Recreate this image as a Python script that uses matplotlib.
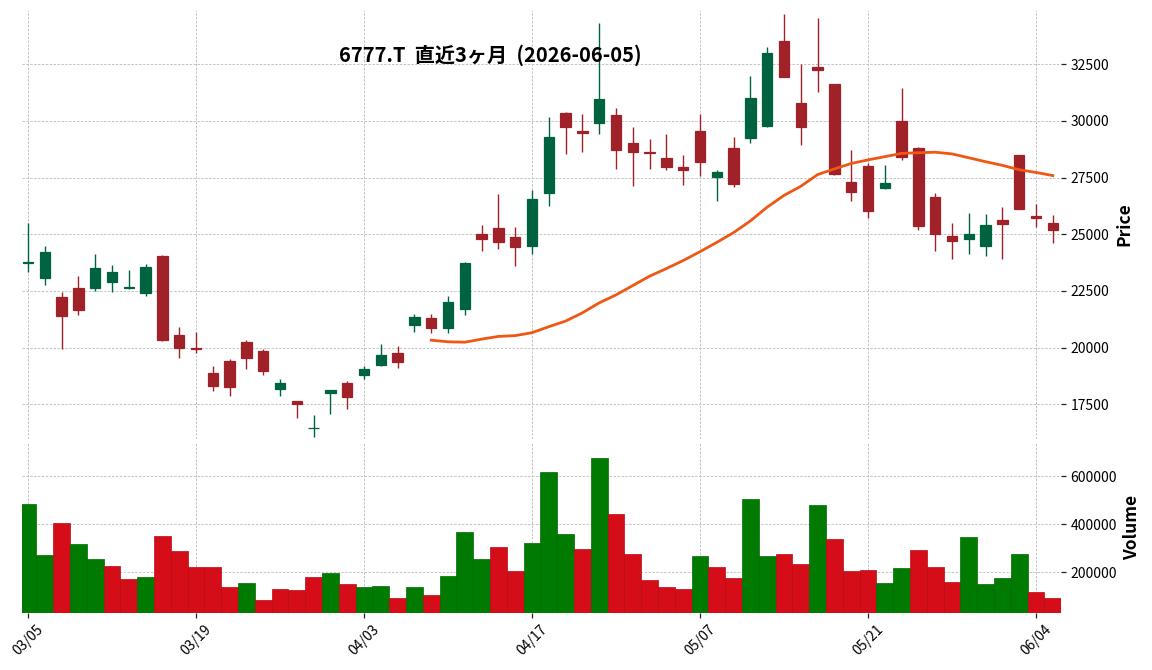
import matplotlib
matplotlib.use("Agg")
import matplotlib.pyplot as plt
import numpy as np
import pandas as pd

# フォント設定 (日本語タイトル用)
plt.rcParams['font.family'] = ['Noto Sans CJK JP', 'DejaVu Sans']

# 日付 (営業日)
dates = ["03/05", "03/06", "03/09", "03/10", "03/11", "03/12", "03/13", "03/16", "03/17", "03/18",
         "03/19", "03/23", "03/24", "03/25", "03/26", "03/27", "03/30", "03/31", "04/01", "04/02",
         "04/03", "04/06", "04/07", "04/08", "04/09", "04/10", "04/13", "04/14", "04/15", "04/16",
         "04/17", "04/20", "04/21", "04/22", "04/23", "04/24", "04/27", "04/28", "04/30", "05/01",
         "05/07", "05/08", "05/11", "05/12", "05/13", "05/14", "05/15", "05/18", "05/19", "05/20",
         "05/21", "05/22", "05/25", "05/26", "05/27", "05/28", "05/29", "06/01", "06/02", "06/03",
         "06/04", "06/05"]

opens = [23740, 23060, 22250, 22610, 22620, 22890, 22630, 22390, 24060, 20540,
         19990, 18860, 19390, 20230, 19830, 18170, 17630, 16440, 18010, 18420,
         18790, 19230, 19740, 20990, 21310, 20860, 21700, 25030, 25290, 24900,
         24470, 26820, 30330, 29560, 29930, 30270, 29020, 28640, 28380, 27980,
         29560, 27510, 28820, 29230, 29780, 33530, 30800, 32380, 31630, 27320,
         28020, 27020, 30000, 28820, 26660, 24940, 24780, 24470, 25610, 28480,
         25820, 25510]
highs = [25500, 24470, 22470, 23160, 24130, 23650, 23430, 23690, 24080, 20900,
         20700, 19200, 19480, 20320, 19950, 18600, 17640, 17010, 18120, 18510,
         19190, 20170, 20070, 21500, 21500, 22280, 23790, 25410, 26780, 25310,
         26950, 30170, 30390, 30300, 34310, 30560, 29730, 29200, 29420, 28490,
         30300, 27820, 29290, 31970, 33280, 34700, 32500, 34530, 31650, 28700,
         28140, 28050, 31440, 28830, 26820, 25500, 25950, 25890, 26200, 28500,
         26330, 25850]
lows = [23320, 22770, 19960, 21450, 22500, 22460, 22590, 22280, 20310, 19550,
        19740, 18100, 17880, 19070, 18800, 17880, 16910, 16070, 17060, 17280,
        18630, 19190, 19110, 20700, 20650, 20650, 21450, 24270, 24350, 23600,
        24120, 26250, 28540, 28620, 29420, 27880, 27140, 27880, 27830, 27170,
        27580, 26470, 27080, 29020, 29720, 31940, 28930, 31270, 27620, 26470,
        25720, 27000, 28270, 25200, 24260, 23910, 24130, 24040, 23910, 26110,
        25310, 24600]
closes = [23770, 24220, 21390, 21650, 23530, 23350, 22690, 23570, 20330, 19980,
          19950, 18300, 18260, 19540, 18970, 18420, 17510, 16470, 18110, 17820,
          19040, 19680, 19360, 21370, 20870, 22030, 23750, 24780, 24650, 24430,
          26570, 29300, 29750, 29450, 30970, 28700, 28650, 28580, 27950, 27820,
          28210, 27760, 27240, 31020, 33000, 31960, 29750, 32270, 27640, 26850,
          26010, 27270, 28430, 25350, 25030, 24690, 25030, 25420, 25440, 26130,
          25730, 25180]
volumes = [485000, 272000, 405000, 318000, 256000, 226000, 172000, 181000, 351000, 289000,
           222000, 222000, 139000, 156000, 85000, 131000, 126000, 181000, 197000, 151000,
           139000, 143000, 93000, 139000, 106000, 185000, 368000, 256000, 306000, 206000,
           322000, 618000, 360000, 297000, 676000, 443000, 276000, 168000, 139000, 131000,
           268000, 222000, 176000, 506000, 268000, 276000, 235000, 481000, 339000, 206000,
           210000, 156000, 218000, 293000, 222000, 160000, 347000, 151000, 176000, 276000,
           118000, 93000]

df = pd.DataFrame({'Open': opens, 'High': highs, 'Low': lows, 'Close': closes,
                   'Volume': volumes}, index=dates)
df['MA25'] = df['Close'].rolling(25).mean()

# 色
UP, DOWN = '#006340', '#a02128'
VUP, VDOWN = '#007a00', '#d50d18'
MA_COLOR = '#ef5714'
GRID = '#c4c4c4'

x = np.arange(len(df))
up = df['Close'] >= df['Open']
ccol = np.where(up, UP, DOWN)
vup = df['Close'].diff().fillna(1) >= 0
vcol = np.where(vup, VUP, VDOWN)
vedge = np.where(vup, '#006a00', '#b80a14')

fig = plt.figure(figsize=(11.52, 6.7), dpi=100)
ax1 = fig.add_axes([0.0191, 0.3448, 0.9019, 0.6403])
ax2 = fig.add_axes([0.0191, 0.0855, 0.9019, 0.2548], sharex=ax1)

# ローソク足
ax1.vlines(x, df['Low'], df['High'], colors=ccol, linewidth=1.0, zorder=2)
body_lo = np.minimum(df['Open'], df['Close'])
body_h = np.abs(df['Close'] - df['Open'])
ax1.bar(x, body_h, bottom=body_lo, width=0.62, color=ccol, edgecolor=ccol,
        linewidth=0.9, zorder=3)
ax1.plot(x, df['MA25'], color=MA_COLOR, linewidth=2.0, zorder=4)

# 出来高
ax2.bar(x, df['Volume'], width=1.0, color=vcol, edgecolor=vedge, linewidth=0.5, zorder=2)

for ax in (ax1, ax2):
    for s in ax.spines.values():
        s.set_visible(False)
    ax.yaxis.tick_right()
    ax.yaxis.set_label_position('right')
    ax.grid(True, color=GRID, linestyle='--', linewidth=0.7, dashes=(2.5, 1.5))
    ax.set_axisbelow(True)
    ax.tick_params(axis='both', labelsize=10, length=3.5, width=0.9, color='#222222')

ax1.set_xlim(-0.36, 61.49)
ax1.set_ylim(15968, 34896)
ax1.set_yticks(np.arange(17500, 32501, 2500))
ax1.tick_params(axis='x', labelbottom=False, length=0)
ax1.set_ylabel('Price', fontsize=12.5, fontweight='bold')

ax2.set_ylim(31650, 742900)
ax2.set_yticks([200000, 400000, 600000])
ax2.set_xticks(x[::10])
ax2.set_xticklabels(df.index[::10], rotation=45, ha='center')
ax2.set_ylabel('Volume', fontsize=12.5, fontweight='bold')

fig.text(0.426, 0.918, '6777.T  直近3ヶ月  (2026-06-05)', ha='center', va='center',
         fontsize=14.5, fontweight='bold')

fig.savefig('out.png', dpi=100)
